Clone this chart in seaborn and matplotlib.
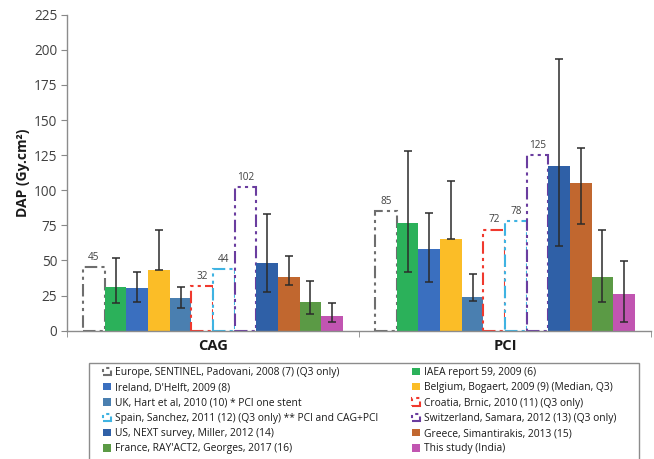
import numpy as np
import pandas as pd
import matplotlib
matplotlib.use("Agg")
import matplotlib.pyplot as plt
from matplotlib.patches import Rectangle
import seaborn as sns

procedures = ["CAG", "PCI"]
studies = [
    "Europe, SENTINEL, Padovani, 2008 (7) (Q3 only)",
    "IAEA report 59, 2009 (6)",
    "Ireland, D'Helft, 2009 (8)",
    "Belgium, Bogaert, 2009 (9) (Median, Q3)",
    "UK, Hart et al, 2010 (10) * PCI one stent",
    "Croatia, Brnic, 2010 (11) (Q3 only)",
    "Spain, Sanchez, 2011 (12) (Q3 only) ** PCI and CAG+PCI",
    "Switzerland, Samara, 2012 (13) (Q3 only)",
    "US, NEXT survey, Miller, 2012 (14)",
    "Greece, Simantirakis, 2013 (15)",
    "France, RAY'ACT2, Georges, 2017 (16)",
    "This study (India)",
]
colors = ["#6e6e6e", "#2bb15a", "#3a6fbf", "#fbbd27", "#4a7fb0", "#f0392e",
          "#3fb3e2", "#6a3d9f", "#2f60a7", "#c1672f", "#5b9a45", "#c155b1"]
q3_only = [True, False, False, False, False, True, True, True, False, False, False, False]

cag_values = [45, 31, 30.5, 43.5, 23, 32, 44, 102, 48.5, 38, 20.5, 10.5]
cag_low = [np.nan, 20, 20.5, 43, 16, np.nan, np.nan, np.nan, 27.3, 32.3, 12, 6.2]
cag_high = [np.nan, 51.5, 42, 71.5, 31, np.nan, np.nan, np.nan, 83, 53.4, 35.6, 19.7]

pci_values = [85, 77, 58.4, 65.5, 23.7, 72, 78, 125, 117.5, 105, 38, 25.9]
pci_low = [np.nan, 41.5, 34.4, 65, 20.9, np.nan, np.nan, np.nan, 60.3, 75.7, 20.2, 6.2]
pci_high = [np.nan, 128.2, 84, 106.8, 40.4, np.nan, np.nan, np.nan, 193.8, 130, 71.9, 49.8]

df = pd.DataFrame({
    "procedure": ["CAG"] * 12 + ["PCI"] * 12,
    "study": studies * 2,
    "dap": cag_values + pci_values,
    "low": cag_low + pci_low,
    "high": cag_high + pci_high,
})

sns.set_style("white")
plt.rcParams["font.family"] = ["Open Sans", "DejaVu Sans"]

W, H = 654, 459
fig = plt.figure(figsize=(6.54, 4.59), dpi=100)
ax = fig.add_axes([67 / W, 1 - 330.7 / H, (651 - 67) / W, 316 / H])

sns.barplot(data=df, x="procedure", y="dap", hue="study", hue_order=studies,
            order=procedures, palette=colors, width=0.89, gap=0, errorbar=None,
            saturation=1, legend=False, ax=ax)

bar_containers = list(ax.containers)
dash = (0, (6, 2, 1.5, 2, 1.5, 2))
for i, cont in enumerate(bar_containers):
    sub = df[df["study"] == studies[i]].set_index("procedure").loc[procedures]
    for j, patch in enumerate(cont.patches):
        if q3_only[i]:
            patch.set_facecolor("white")
            patch.set_edgecolor(colors[i])
            patch.set_linestyle(dash)
            patch.set_linewidth(1.5)
            patch.set_zorder(1)
        else:
            patch.set_linewidth(0)
        cx = patch.get_x() + patch.get_width() / 2
        lo, hi, v = sub["low"].iloc[j], sub["high"].iloc[j], sub["dap"].iloc[j]
        if not np.isnan(lo):
            ax.errorbar([cx], [v], yerr=[[v - lo], [hi - v]], fmt="none",
                        ecolor="#2b2b2b", elinewidth=1.1, capsize=2.6, capthick=1.1, zorder=3)
    if q3_only[i]:
        ax.bar_label(cont, fmt="%d", padding=3, fontsize=7.2, color="#404040")

ax.set_ylim(0, 225)
ax.set_xlim(-0.5, 1.5)
ax.set_yticks(np.arange(0, 226, 25))
ax.tick_params(axis="y", labelsize=9.8, labelcolor="#404040", length=4, color="#888888",
               direction="out", left=True, pad=3)
ax.set_xticks([0, 1])
ax.set_xticklabels(procedures, fontsize=10.5, fontweight="bold", color="#1a1a1a")
ax.tick_params(axis="x", length=0, pad=6)
ax.set_xticks([-0.5, 0.5, 1.5], minor=True)
ax.tick_params(axis="x", which="minor", length=4, color="#888888", bottom=True)
ax.set_xlabel("")
ax.set_ylabel("DAP (Gy.cm²)", fontsize=10, fontweight="bold", color="#1a1a1a", labelpad=3)
for s in ["top", "right"]:
    ax.spines[s].set_visible(False)
for s in ["left", "bottom"]:
    ax.spines[s].set_color("#8c8c8c")
    ax.spines[s].set_linewidth(1)

# legend frame
fig.patches.append(Rectangle((89 / W, -0.05), (639 - 89) / W, 0.05 + 1 - 363 / H,
                             transform=fig.transFigure, fill=False,
                             edgecolor="#8c8c8c", linewidth=1))

handles = [bar_containers[i].patches[0] for i in range(12)]
left_idx = [0, 2, 4, 6, 8, 10]
right_idx = [1, 3, 5, 7, 9, 11]
common = dict(loc="upper left", fontsize=7.35, frameon=False, handlelength=0.75,
              handleheight=0.75, handletextpad=0.45, labelspacing=0.42,
              borderpad=0, borderaxespad=0)
leg1 = fig.legend([handles[k] for k in left_idx], [studies[k] for k in left_idx],
                  bbox_to_anchor=(103 / W, 1 - 367 / H), **common)
leg2 = fig.legend([handles[k] for k in right_idx], [studies[k] for k in right_idx],
                  bbox_to_anchor=(412 / W, 1 - 367 / H), **common)
for leg in (leg1, leg2):
    for t in leg.get_texts():
        t.set_color("#1a1a1a")

fig.savefig("out.png", dpi=100)
